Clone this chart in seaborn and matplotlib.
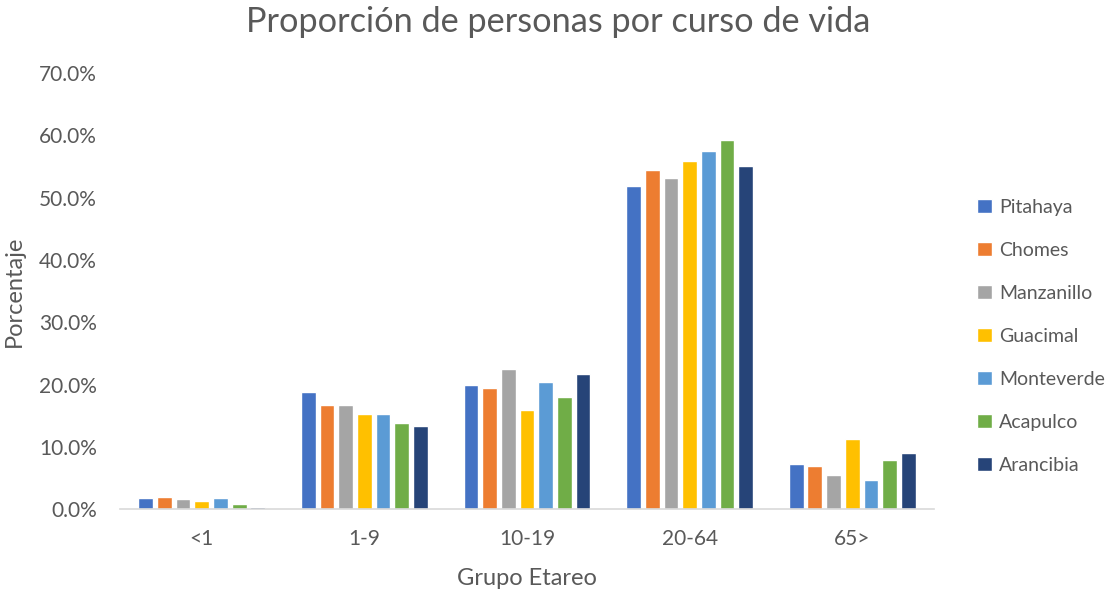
import pandas as pd
import matplotlib.pyplot as plt
import seaborn as sns
from matplotlib.ticker import PercentFormatter

grupos = ["<1", "1-9", "10-19", "20-64", "65>"]
localidades = ["Pitahaya", "Chomes", "Manzanillo", "Guacimal", "Monteverde", "Acapulco", "Arancibia"]

# porcentaje por grupo etareo, un arreglo por localidad
pitahaya = [1.9, 18.8, 20.0, 51.9, 7.3]
chomes = [2.0, 16.8, 19.5, 54.4, 7.0]
manzanillo = [1.6, 16.7, 22.6, 53.1, 5.5]
guacimal = [1.3, 15.3, 16.0, 55.9, 11.3]
monteverde = [1.9, 15.3, 20.4, 57.5, 4.7]
acapulco = [0.9, 13.8, 18.0, 59.2, 7.9]
arancibia = [0.4, 13.4, 21.8, 55.1, 9.0]

colores = ["#4472C4", "#ED7D31", "#A5A5A5", "#FFC000", "#5B9BD5", "#70AD47", "#264478"]

series = [pitahaya, chomes, manzanillo, guacimal, monteverde, acapulco, arancibia]
rows = []
for loc, vals in zip(localidades, series):
    for g, v in zip(grupos, vals):
        rows.append({"grupo": g, "localidad": loc, "pct": v})
df = pd.DataFrame(rows)

sns.set_theme(style="white")
plt.rcParams["font.family"] = ["Lato", "DejaVu Sans"]

fig = plt.figure(figsize=(11.17, 5.92), dpi=100)
ax = fig.add_axes([0.1078, 0.1394, 0.728, 0.7373])

sns.barplot(data=df, x="grupo", y="pct", hue="localidad", order=grupos,
            hue_order=localidades, palette=colores, width=0.805, gap=0.21,
            saturation=1, ax=ax)

ax.set_xlim(-0.5, 4.5)
ax.set_ylim(0, 70)
ax.set_yticks(range(0, 71, 10))
ax.yaxis.set_major_formatter(PercentFormatter(decimals=1))
ax.tick_params(axis="y", colors="#595959", labelsize=15, length=0, pad=17)
ax.tick_params(axis="x", colors="#595959", labelsize=15, length=0, pad=14)
for s in ["top", "right", "left"]:
    ax.spines[s].set_visible(False)
ax.spines["bottom"].set_color("#D9D9D9")
ax.spines["bottom"].set_linewidth(1.2)

ax.set_xlabel("Grupo Etareo", fontsize=17, color="#595959", labelpad=14)
ax.set_ylabel("Porcentaje", fontsize=17, color="#595959")
ax.yaxis.set_label_coords(-0.118, 0.5)
fig.suptitle("Proporción de personas por curso de vida", fontsize=24.7,
             color="#595959", y=0.99)

leg = ax.legend(loc="center left", bbox_to_anchor=(0.866, 0.4316),
                bbox_transform=fig.transFigure, frameon=False, borderpad=0,
                fontsize=14, labelspacing=1.34, handlelength=0.75, handleheight=0.75,
                handletextpad=0.4)
for t in leg.get_texts():
    t.set_color("#595959")

fig.savefig("out.png", dpi=100)
